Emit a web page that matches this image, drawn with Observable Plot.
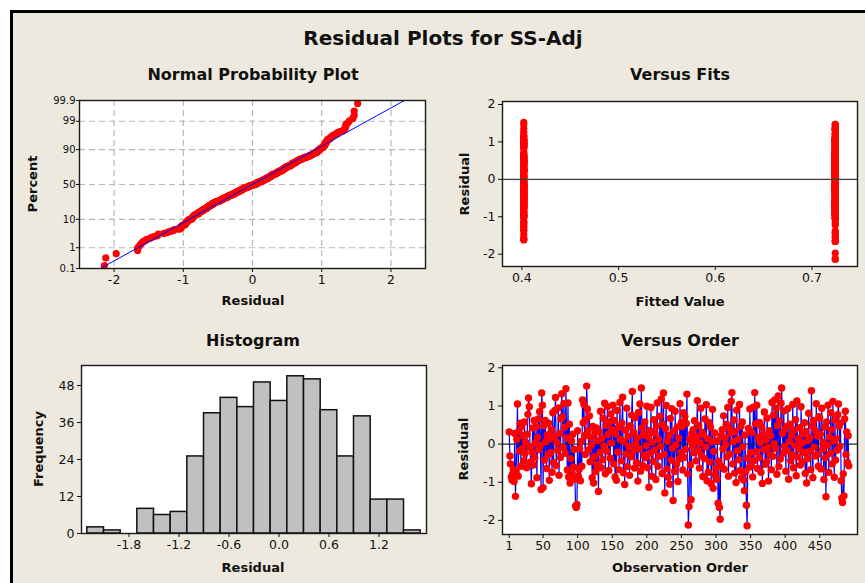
<!DOCTYPE html>
<html><head><meta charset="utf-8">
<script src="https://cdn.jsdelivr.net/npm/d3@7"></script>
<script src="https://cdn.jsdelivr.net/npm/@observablehq/plot@0.6"></script>
<style>
html,body{margin:0;padding:0;background:#fff;}
body{width:865px;height:583px;overflow:hidden;position:relative;font-family:"DejaVu Sans",Verdana,sans-serif;}
#panel{position:absolute;left:10px;top:10px;width:900px;height:620px;border:3px solid #000;background:#EDE9DE;}
.lbl{position:absolute;white-space:nowrap;line-height:1;color:#111;font-weight:bold;transform:translate(-50%,-50%);}
.rot{transform:translate(-50%,-50%) rotate(-90deg);}
</style></head>
<body>
<div id="panel"></div>
<script>
// ---------------- DATA ----------------
const mainTitle = "Residual Plots for SS-Adj";
const panelTitles = ["Normal Probability Plot", "Versus Fits", "Histogram", "Versus Order"];

// residuals in observation order (1..492)
const residuals = [
0.32,-0.31,-0.52,-0.86,-0.94,-0.78,-0.66,-0.98,0.28,-1.37,
-0.72,0.12,1.05,-0.84,0.34,-0.18,0.55,-0.58,0.47,-0.12,
0.22,-0.44,0.58,-0.25,0.05,-0.62,0.26,0.78,1.21,0.98,
-0.08,-0.47,-1.04,-0.2,0.42,-0.55,0.62,-0.36,0.02,0.45,
-0.88,0.18,0.66,-0.15,0.85,-0.03,-1.19,1.34,1.02,-1.14,
0.48,-0.42,0.62,0.06,-0.64,0.24,-0.28,0.55,-0.95,0.14,
-0.22,0.38,-0.74,0.82,-0.48,0.2,0.88,1.22,-0.56,0.04,
-0.16,0.95,-0.82,0.28,-0.35,0.66,1.32,0.72,-0.09,1.06,
0.44,-0.24,1.45,0.16,-0.68,1.08,-0.86,0.52,-1.02,-0.38,
0.08,-0.78,0.26,-0.6,-0.14,-0.92,-1.62,-1.66,-1.58,0.35,
-0.84,-0.66,-0.12,-0.96,0.07,-0.58,1.16,0.56,1.04,0.22,
-0.27,0.64,1.52,0.92,0.36,-0.15,0.74,-0.46,0.18,-0.02,
-0.88,0.46,-1.02,-0.34,0.29,-0.72,0.42,-0.54,0.09,-1.24,
0.33,-0.22,0.86,-0.62,0.15,-0.41,0.68,-0.05,1.07,-0.78,
0.49,-0.19,0.98,0.25,-0.69,0.58,-0.37,0.79,0.03,0.38,
1.02,-0.52,0.62,-0.86,0.27,-0.95,0.88,-0.21,0.44,-0.67,
1.09,0.12,-0.44,0.55,1.23,-0.75,0.06,-1.06,0.37,-0.26,
0.94,-0.59,0.21,-0.07,-0.82,0.48,-0.33,0.76,1.38,-0.18,
0.31,-0.63,0.69,0.01,-0.48,0.17,-0.97,0.83,-0.13,1.05,
-0.71,1.47,0.42,-0.56,0.24,-0.29,0.58,-0.36,-0.04,0.99,
-0.62,0.18,-1.13,0.36,-0.24,0.96,-0.84,0.05,-0.45,0.64,
-0.16,0.28,-0.93,0.47,1.08,-0.58,0.13,-0.32,0.73,-0.06,
1.18,-0.77,0.52,1.34,-0.27,-1.28,0.41,1.01,-0.65,0.08,
-0.87,0.23,-1.05,0.67,-0.42,0.93,-0.11,-1.48,0.34,-0.72,
0.86,-0.02,-0.53,0.45,-0.98,0.16,-0.39,1.06,-0.22,0.57,
0.46,-0.68,0.82,-0.35,0.72,-0.14,0.54,1.31,-0.78,-2.12,
-1.64,0.12,-0.55,-1.46,0.27,-0.04,0.38,-0.23,0.61,0.09,
-0.44,0.19,1.14,-0.17,0.49,-0.63,0.03,0.94,-0.29,0.31,
-0.85,0.24,-0.38,0.66,-0.08,1.03,-0.96,0.14,-0.74,0.57,
-0.47,0.44,-1.04,0.06,0.91,-1.16,-0.19,0.29,-0.81,-0.64,
-0.92,0.09,-1.55,-0.45,-1.66,-1.97,0.22,-0.58,0.38,-0.13,
0.74,-0.66,0.16,-0.02,0.52,-0.33,0.96,-0.84,0.43,-0.26,
0.28,1.12,1.35,-0.52,0.06,0.63,-0.76,0.33,-1.01,0.89,
-0.18,0.13,-0.41,1.04,-0.69,0.47,-0.88,0.58,-0.07,-0.94,
-1.22,0.24,-0.72,-1.6,-2.14,-0.37,0.41,-0.61,0.92,-0.22,
-0.57,0.31,-0.86,0.97,-0.43,1.35,0.53,-0.2,1.02,-0.64,
0.18,-0.36,0.57,0.04,-0.74,0.45,-1.03,0.26,-0.15,0.84,
-0.53,0.11,-0.47,0.68,-0.09,-0.97,0.35,-0.28,0.22,-0.67,
1.09,-0.32,0.76,0.01,1.16,-0.12,0.94,-0.79,0.48,1.26,
-0.59,0.61,-0.39,1.07,1.47,0.28,-0.24,0.87,-0.06,0.39,
-0.71,0.46,-0.17,0.93,-0.92,0.07,0.52,-0.44,0.23,-0.27,
1.04,-0.62,0.37,-0.04,0.64,-0.83,1.13,-0.34,0.14,-0.13,
0.43,-0.55,0.98,0.02,-0.46,0.27,-0.22,0.56,-0.77,0.33,
-1.02,0.09,-0.38,0.81,-0.19,0.17,-0.67,1.4,0.49,-0.88,
0.62,-0.08,0.36,-0.31,1.06,-0.28,0.21,-0.58,0.72,0.68,
0.26,-0.65,0.94,-0.14,0.05,-0.93,0.44,-0.36,-1.38,0.58,
-0.03,1.02,-0.74,0.19,-0.24,0.82,0.38,-0.52,1.12,0.08,
-0.87,0.63,-0.42,0.14,-0.16,0.77,1.05,0.47,-0.06,0.55,
-0.96,-1.42,-1.53,-0.78,-1.36,0.66,0.86,-0.27,0.32,-0.48,
0.22,-0.57
];

// fitted value level of each observation: "a" = 0.402, "b" = 0.724
const fittedLevels = [0.402, 0.724];
const fitGroup = [
"babbabbaba","bbababbabb","abbabbabba","babbbababb","abbabbabba",
"bbababbabb","abbbababba","babbabbabb","ababbabbab","babbababab",
"abbabbabab","bbabbabbab","babbabbaba","bbababbabb","abbabbabba",
"babbababba","bbabbabbab","abbabbabba","babbabbbab","abbabbabab",
"bbababbabb","abbabbabba","babbaabbab","babbabbabb","abbabbabab",
"abbabbabab","babbabbaba","bbababbabb","abbababbab","bababbabba",
"abbabbabab","babbababba","bbabbabbab","abbabbabab","bababbabba",
"babbababba","babbabbabb","ababbabbab","babbababba","bbabbababb",
"abbababbab","babbabbaba","bbababbabb","abbabbabab","babbabbaba",
"abbabbabba","babbababba","bbababbabb","abbbabbaba","ba"
].join("");

const percentTicks = [0.1, 1, 10, 50, 90, 99, 99.9];
const residTicks = [-2, -1, 0, 1, 2];
const fitTicks = [0.4, 0.5, 0.6, 0.7];
const freqTicks = [0, 12, 24, 36, 48];
const histTicks = [-1.8, -1.2, -0.6, 0.0, 0.6, 1.2];
const binEdges = d3.range(-23, 19, 2).map(v => v / 10); // -2.3 .. 1.7 step 0.2
const orderTicks = [1, 50, 100, 150, 200, 250, 300, 350, 400, 450];

// ---------------- HELPERS ----------------
function probit(p) {
  const a = [-3.969683028665376e+01, 2.209460984245205e+02, -2.759285104469687e+02, 1.383577518672690e+02, -3.066479806614716e+01, 2.506628277459239e+00];
  const b = [-5.447609879822406e+01, 1.615858368580409e+02, -1.556989798598866e+02, 6.680131188771972e+01, -1.328068155288572e+01];
  const c = [-7.784894002430293e-03, -3.223964580411365e-01, -2.400758277161838e+00, -2.549671348283169e+00, 4.374664141464968e+00, 2.938163982698783e+00];
  const d = [7.784695709041462e-03, 3.224671290700398e-01, 2.445134137142996e+00, 3.754408661907416e+00];
  const pl = 0.02425, ph = 1 - pl;
  let q, r;
  if (p < pl) { q = Math.sqrt(-2 * Math.log(p)); return (((((c[0]*q+c[1])*q+c[2])*q+c[3])*q+c[4])*q+c[5]) / ((((d[0]*q+d[1])*q+d[2])*q+d[3])*q+1); }
  if (p <= ph) { q = p - 0.5; r = q * q; return (((((a[0]*r+a[1])*r+a[2])*r+a[3])*r+a[4])*r+a[5])*q / (((((b[0]*r+b[1])*r+b[2])*r+b[3])*r+b[4])*r+1); }
  q = Math.sqrt(-2 * Math.log(1 - p)); return -(((((c[0]*q+c[1])*q+c[2])*q+c[3])*q+c[4])*q+c[5]) / ((((d[0]*q+d[1])*q+d[2])*q+d[3])*q+1);
}

const M = {l: 45, r: 6, t: 6, b: 28};
const FONT = "'DejaVu Sans', Verdana, sans-serif";
function makePlot(frame, opts) {
  const [x0, y0, x1, y1] = frame;
  const svg = Plot.plot({
    width: x1 - x0 + M.l + M.r,
    height: y1 - y0 + M.t + M.b,
    marginLeft: M.l, marginRight: M.r, marginTop: M.t, marginBottom: M.b,
    style: {background: "transparent", fontFamily: FONT, fontSize: "12.5px", color: "#111", overflow: "visible"},
    ...opts
  });
  svg.style.position = "absolute";
  svg.style.left = (x0 - M.l) + "px";
  svg.style.top = (y0 - M.t) + "px";
  svg.style.maxWidth = "none";
  document.body.appendChild(svg);
}
function label(text, cx, cy, size, rotate) {
  const el = document.createElement("div");
  el.className = "lbl" + (rotate ? " rot" : "");
  el.textContent = text;
  el.style.left = cx + "px";
  el.style.top = cy + "px";
  el.style.fontSize = size + "px";
  document.body.appendChild(el);
}
const fmt1 = d => d.toFixed(1);
const fmt0 = d => String(d);
const frameStroke = {stroke: "#1a1a1a", strokeWidth: 1.4};
const TS = 12.5;

// ---------------- NORMAL PROBABILITY PLOT ----------------
const n = residuals.length;
const sorted = residuals.slice().sort((a, b) => a - b);
const probData = sorted.map((r, i) => ({r, z: probit((i + 1 - 0.3) / (n + 0.4))}));
const mean = d3.mean(residuals), sd = d3.deviation(residuals);
const zTicks = percentTicks.map(p => probit(p / 100));
const zLabel = new Map(zTicks.map((z, i) => [z, String(percentTicks[i])]));
const zLo = zTicks[0], zHi = zTicks[zTicks.length - 1];
const fitLine = [zLo, zHi].map(z => ({z, r: mean + sd * z}));
const gridStyle = {stroke: "#b8b8b8", strokeOpacity: 1, strokeWidth: 1.2, strokeDasharray: "6,4"};

makePlot([79, 100, 425, 268], {
  x: {domain: [-2.5, 2.5], axis: null},
  y: {domain: [zLo, zHi], axis: null},
  marks: [
    Plot.frame({fill: "white", stroke: "none"}),
    Plot.gridX({ticks: residTicks, ...gridStyle}),
    Plot.gridY({ticks: zTicks, ...gridStyle}),
    Plot.dot(probData, {x: "r", y: "z", r: 3.6, fill: "#ff0000"}),
    Plot.line(fitLine, {x: "r", y: "z", stroke: "#0000ff", strokeWidth: 1}),
    Plot.frame(frameStroke),
    Plot.axisX({ticks: residTicks, tickFormat: fmt0, tickSize: 4, tickPadding: 3, label: null, fontSize: TS}),
    Plot.axisY({ticks: zTicks, tickFormat: z => zLabel.get(z), tickSize: 3, tickPadding: 1, label: null, fontSize: 10})
  ]
});

// ---------------- VERSUS FITS ----------------
const fitsData = residuals.map((r, i) => ({fit: fittedLevels[fitGroup[i] === "a" ? 0 : 1], r}));
makePlot([502, 101, 857, 266], {
  x: {domain: [0.38, 0.747], axis: null},
  y: {domain: [-2.33, 2.08], axis: null},
  marks: [
    Plot.frame({fill: "white", stroke: "none"}),
    Plot.dot(fitsData, {x: "fit", y: "r", r: 3.6, fill: "#ff0000"}),
    Plot.ruleY([0], {stroke: "#3a3a3a", strokeWidth: 1.3}),
    Plot.frame(frameStroke),
    Plot.axisX({ticks: fitTicks, tickFormat: fmt1, tickSize: 4, tickPadding: 3, label: null, fontSize: TS}),
    Plot.axisY({ticks: residTicks, tickFormat: fmt0, tickSize: 4, tickPadding: 3, label: null, fontSize: TS})
  ]
});

// ---------------- HISTOGRAM ----------------
makePlot([81, 365, 426, 533], {
  x: {domain: [-2.37, 1.77], axis: null},
  y: {domain: [0, 54.5], axis: null},
  marks: [
    Plot.frame({fill: "white", stroke: "none"}),
    Plot.rectY(residuals, Plot.binX({y: "count"}, {
      x: {value: d => d, thresholds: binEdges, domain: [binEdges[0], binEdges[binEdges.length - 1]]},
      fill: "#c0c0c0", stroke: "#111", strokeWidth: 1.5, inset: 0
    })),
    Plot.frame(frameStroke),
    Plot.axisX({ticks: histTicks, tickFormat: fmt1, tickSize: 4, tickPadding: 3, label: null, fontSize: TS}),
    Plot.axisY({ticks: freqTicks, tickFormat: fmt0, tickSize: 4, tickPadding: 3, label: null, fontSize: TS})
  ]
});

// ---------------- VERSUS ORDER ----------------
const orderData = residuals.map((r, i) => ({obs: i + 1, r}));
makePlot([502, 365, 857, 534], {
  x: {domain: [-8.7, 504.6], axis: null},
  y: {domain: [-2.37, 2.06], axis: null},
  marks: [
    Plot.frame({fill: "white", stroke: "none"}),
    Plot.line(orderData, {x: "obs", y: "r", stroke: "#0000ff", strokeWidth: 1.2}),
    Plot.ruleY([0], {stroke: "#222", strokeWidth: 1.3}),
    Plot.dot(orderData, {x: "obs", y: "r", r: 3.7, fill: "#ff0000"}),
    Plot.frame(frameStroke),
    Plot.axisX({ticks: orderTicks, tickFormat: fmt0, tickSize: 4, tickPadding: 3, label: null, fontSize: TS}),
    Plot.axisY({ticks: residTicks, tickFormat: fmt0, tickSize: 4, tickPadding: 3, label: null, fontSize: TS})
  ]
});

// ---------------- TEXT ----------------
label(mainTitle, 443, 38, 20);
label(panelTitles[0], 253, 75, 16);
label(panelTitles[1], 680, 75, 16);
label(panelTitles[2], 253, 341, 16);
label(panelTitles[3], 680, 341, 16);
label("Percent", 32, 184, 13, true);
label("Residual", 253, 300, 13);
label("Residual", 464, 184, 13, true);
label("Fitted Value", 680, 301, 13);
label("Frequency", 38, 449, 13, true);
label("Residual", 253, 567, 13);
label("Residual", 463, 449, 13, true);
label("Observation Order", 680, 567, 13);
</script>
</body></html>
